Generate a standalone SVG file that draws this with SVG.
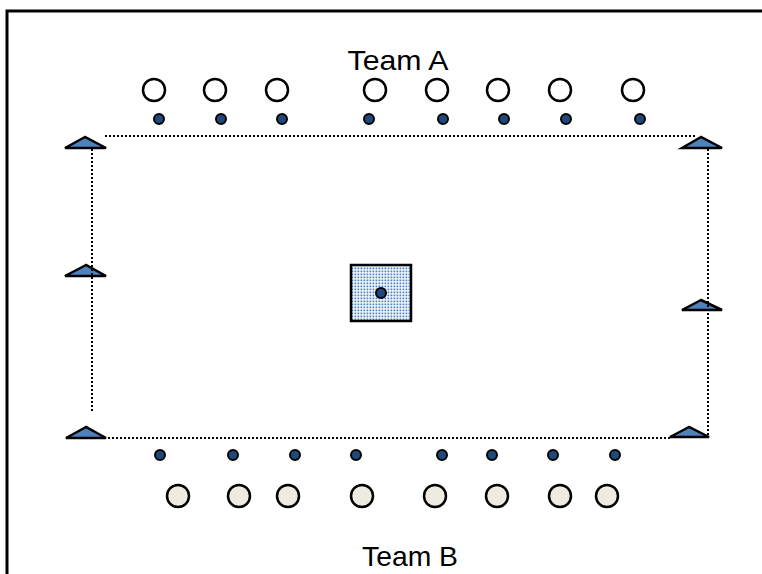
<svg xmlns="http://www.w3.org/2000/svg" width="762" height="574" viewBox="0 0 762 574">
<style>
.frame{fill:none;stroke:#000;stroke-width:3}
.pa{fill:#fff;stroke:#000;stroke-width:2.5}
.pb{fill:#EEECE1;stroke:#000;stroke-width:2.5}
.dot{fill:#1F497D;stroke:#000;stroke-width:2}
.cone{fill:#4F81BD;stroke:#000;stroke-width:2.5;stroke-linejoin:miter}
.line{fill:none;stroke:#000;stroke-width:2;stroke-dasharray:2 2}
.lbl{font-family:"Liberation Sans",Arial,sans-serif;font-size:28px;fill:#000;text-anchor:middle}
</style>
<defs>
<pattern id="dots" width="3" height="3" patternUnits="userSpaceOnUse">
<rect x="0.5" y="0.5" width="1.8" height="1.8" fill="#4F81BD"/>
</pattern>
</defs>
<rect width="762" height="574" fill="#fff"/>
<rect class="frame" x="7" y="11" width="780" height="600"/>
<text class="lbl" x="398" y="70" textLength="101" lengthAdjust="spacingAndGlyphs">Team A</text>
<text class="lbl" x="410" y="566" textLength="96" lengthAdjust="spacingAndGlyphs">Team B</text>
<g id="teamA">
<circle class="pa" cx="154" cy="90" r="11"/>
<circle class="pa" cx="215" cy="90" r="11"/>
<circle class="pa" cx="277" cy="90" r="11"/>
<circle class="pa" cx="375" cy="90" r="11"/>
<circle class="pa" cx="437" cy="90" r="11"/>
<circle class="pa" cx="498" cy="90" r="11"/>
<circle class="pa" cx="560" cy="90" r="11"/>
<circle class="pa" cx="633" cy="90" r="11"/>
</g>
<g id="teamA-dots">
<circle class="dot" cx="159" cy="119" r="5"/>
<circle class="dot" cx="221" cy="119" r="5"/>
<circle class="dot" cx="282" cy="119" r="5"/>
<circle class="dot" cx="369" cy="119" r="5"/>
<circle class="dot" cx="443" cy="119" r="5"/>
<circle class="dot" cx="504" cy="119" r="5"/>
<circle class="dot" cx="566" cy="119" r="5"/>
<circle class="dot" cx="640" cy="119" r="5"/>
</g>
<g id="teamB-dots">
<circle class="dot" cx="160" cy="455" r="5"/>
<circle class="dot" cx="233" cy="455" r="5"/>
<circle class="dot" cx="295" cy="455" r="5"/>
<circle class="dot" cx="356" cy="455" r="5"/>
<circle class="dot" cx="442" cy="455" r="5"/>
<circle class="dot" cx="492" cy="455" r="5"/>
<circle class="dot" cx="553" cy="455" r="5"/>
<circle class="dot" cx="615" cy="455" r="5"/>
</g>
<g id="teamB">
<circle class="pb" cx="178" cy="496" r="11"/>
<circle class="pb" cx="239" cy="496" r="11"/>
<circle class="pb" cx="288" cy="496" r="11"/>
<circle class="pb" cx="362" cy="496" r="11"/>
<circle class="pb" cx="435" cy="496" r="11"/>
<circle class="pb" cx="497" cy="496" r="11"/>
<circle class="pb" cx="560" cy="496" r="11"/>
<circle class="pb" cx="607" cy="496" r="11"/>
</g>
<g id="cones">
<polygon class="cone" points="85,137 65,148 106,148"/>
<polygon class="cone" points="86,265 65,276 106,276"/>
<polygon class="cone" points="86,427 66,438 106,438"/>
<polygon class="cone" points="701,137 682,148 722,148"/>
<polygon class="cone" points="701,300 682,310 722,310"/>
<polygon class="cone" points="689,427 670,437 709,437"/>
</g>
<g id="connectors">
<line class="line" x1="105" y1="136" x2="697" y2="136"/>
<line class="line" x1="108" y1="438" x2="670" y2="438"/>
<line class="line" x1="92" y1="149" x2="92" y2="413"/>
<line class="line" x1="708" y1="149" x2="708" y2="437"/>
</g>
<g id="center">
<rect x="351" y="265" width="60" height="56" fill="#fff"/>
<rect x="351" y="265" width="60" height="56" fill="url(#dots)" stroke="#000" stroke-width="2.5"/>
<circle class="dot" cx="381" cy="293" r="5"/>
</g>
</svg>
